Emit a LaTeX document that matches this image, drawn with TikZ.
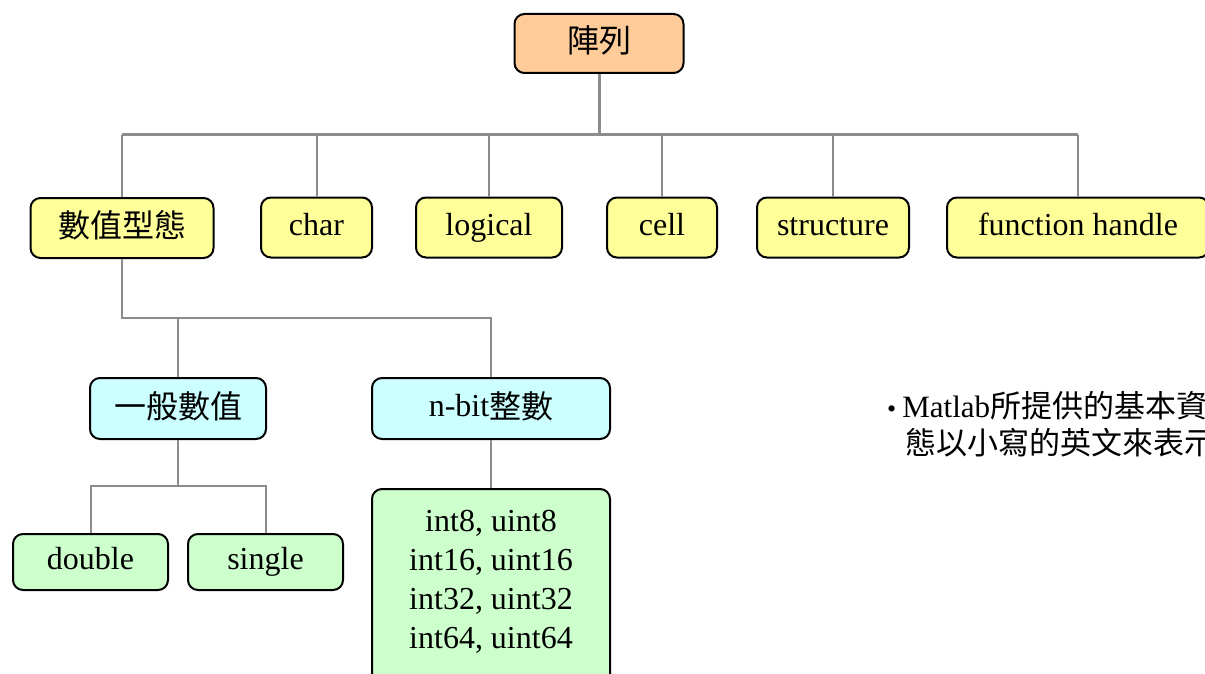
\documentclass[tikz,border=0pt]{standalone}
\usepackage{fontspec}
\setmainfont{Liberation Serif}
\newfontfamily\cjk{Noto Sans CJK TC}
\newcommand{\zh}[1]{\raisebox{-2pt}{\cjk #1}}
\usetikzlibrary{positioning}
\definecolor{peach}{HTML}{FFCC99}
\definecolor{paleYellow}{HTML}{FFFF99}
\definecolor{paleCyan}{HTML}{CCFFFF}
\definecolor{paleGreen}{HTML}{CCFFCC}
\definecolor{linkGray}{HTML}{8C8C8C}
\tikzset{
baseBox/.style={draw=black, line width=2pt, rounded corners=10pt, inner sep=0pt,
    text height=22pt, text depth=7pt, font=\fontsize{32}{38}\selectfont},
topBox/.style={baseBox, fill=peach, minimum height=59pt},
typeBox/.style={baseBox, fill=paleYellow, minimum height=60pt},
numBox/.style={baseBox, fill=paleCyan, minimum height=61pt},
leafBox/.style={baseBox, fill=paleGreen, minimum height=56pt},
linkMain/.style={draw=linkGray, line width=3pt},
link/.style={draw=linkGray, line width=2pt},
noteText/.style={inner sep=0pt, font=\fontsize{31}{37}\selectfont}
}

\begin{document}
\begin{tikzpicture}[x=1pt,y=-1pt]
    \useasboundingbox (0,0) rectangle (1205,674);
    \clip (0,0) rectangle (1205,674);
    % top level
    \node[topBox, minimum width=169pt] (arr) at (599,43.5) {\zh{陣列}};
    % second row
    \node[typeBox, minimum width=183pt] (numType) at (122,228) {\zh{數值型態}};
    \node[typeBox, minimum width=111pt] (char) at (316.5,227.5) {char};
    \node[typeBox, minimum width=146pt] (logical) at (489,227.5) {logical};
    \node[typeBox, minimum width=110pt] (cell) at (662,227.5) {cell};
    \node[typeBox, minimum width=152pt] (struct) at (833,227.5) {structure};
    \node[typeBox, minimum width=262pt] (fhandle) at (1078,227.5) {function handle};
    % third row
    \node[numBox, minimum width=176pt] (general) at (178,408.5) {\zh{一般數值}};
    \node[numBox, minimum width=238pt] (nbit) at (491,408.5) {n-bit\zh{整數}};
    % leaves
    \node[leafBox, minimum width=155pt] (double) at (90.5,562) {double};
    \node[leafBox, minimum width=155pt] (single) at (265.5,562) {single};
    \node[leafBox, minimum width=238pt, minimum height=200pt, anchor=north] (ints) at (491,488) {};
    \node[align=center, inner sep=0pt, font=\fontsize{32}{39}\selectfont, anchor=base]
        (intsText) at (491,648) {int8, uint8\\int16, uint16\\int32, uint32\\int64, uint64};
    % connectors
    \coordinate (busTop) at (599,135);
    \coordinate (busNum) at (122,318);
    \coordinate (busGen) at (178,486);
    \foreach \n in {numType,char,logical,cell,struct,fhandle}
        \draw[link] (\n.north) -- (\n.north |- busTop);
    \draw[linkMain] (numType.north |- busTop) -- (fhandle.north |- busTop);
    \draw[linkMain] (arr.south) -- (busTop);
    \draw[link] (numType.south) -- (busNum) -| (nbit.north);
    \draw[link] (general.north) -- (general.north |- busNum);
    \draw[link] (general.south) -- (busGen);
    \draw[link] (double.north) |- (busGen) -| (single.north);
    \draw[link] (nbit.south) -- (ints.north);
    % side note
    \node[noteText, anchor=base west] (note1) at (887,417)
        {{\fontsize{26}{26}\selectfont •}\hspace{6pt}Matlab{\cjk 所提供的基本資料型}};
    \node[noteText, anchor=base west] (note2) at (905,454) {\cjk 態以小寫的英文來表示};
\end{tikzpicture}
\end{document}
